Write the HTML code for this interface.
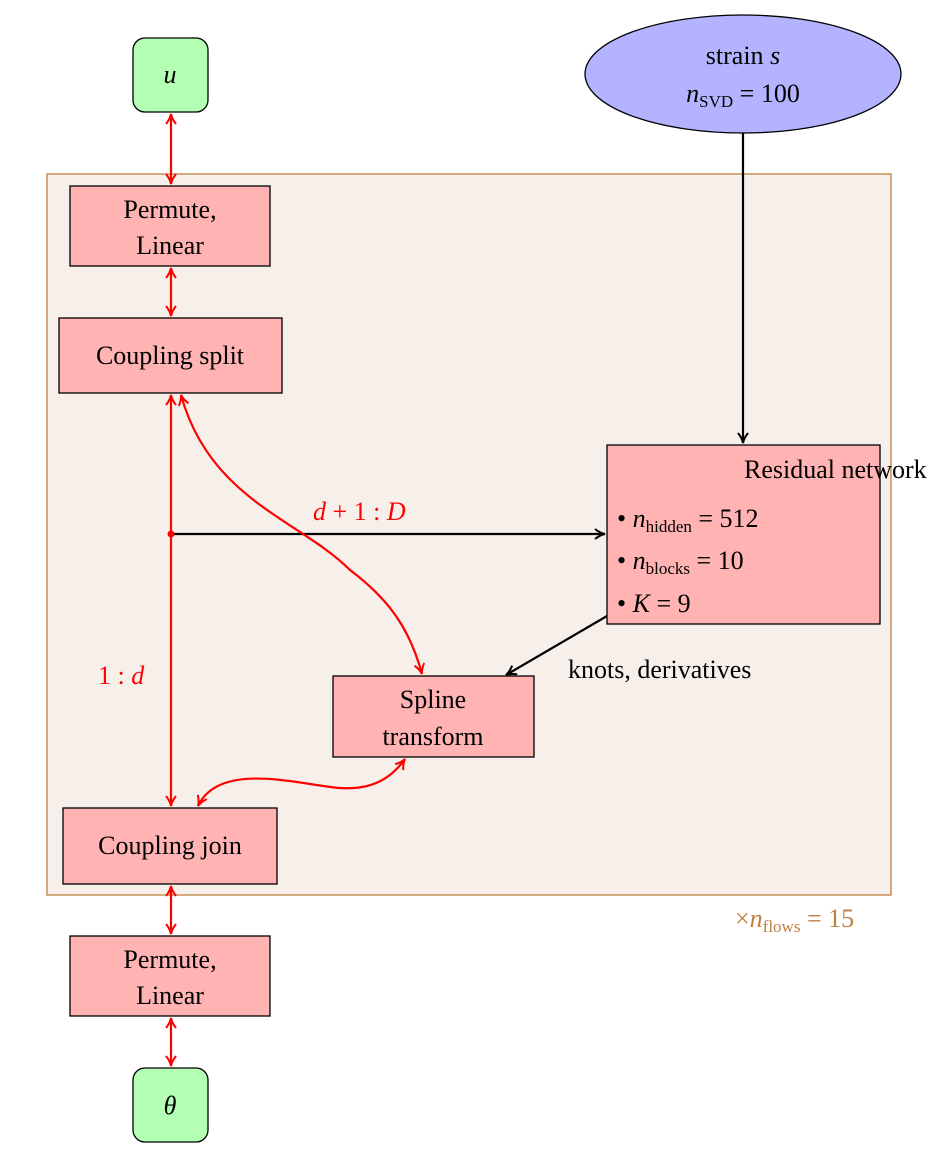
<!DOCTYPE html>
<html><head><meta charset="utf-8"><style>
html,body{margin:0;padding:0;background:#fff}
svg{display:block}
text{font-family:"Liberation Serif",serif;font-size:26px;fill:#000}
.i{font-style:italic}
</style></head><body>
<svg width="934" height="1156" viewBox="0 0 934 1156" xmlns="http://www.w3.org/2000/svg">
<defs>
<marker id="r" viewBox="0 0 12 12" refX="11" refY="6" markerWidth="12" markerHeight="12" markerUnits="userSpaceOnUse" orient="auto-start-reverse">
<path d="M1,1 Q6,5 11,6 Q6,7 1,11" fill="none" stroke="#f00" stroke-width="2"/></marker>
<marker id="k" viewBox="0 0 12 12" refX="11" refY="6" markerWidth="12" markerHeight="12" markerUnits="userSpaceOnUse" orient="auto-start-reverse">
<path d="M1,1 Q6,5 11,6 Q6,7 1,11" fill="none" stroke="#000" stroke-width="2"/></marker>
</defs>
<rect x="47" y="174" width="844" height="721" fill="#f7f0ea" stroke="#c08040" stroke-width="1.3"/>
<text x="735" y="927" style="fill:#c08040">×<tspan class="i">n</tspan><tspan font-size="17" dy="5">flows</tspan><tspan dy="-5"> = 15</tspan></text>

<rect x="133" y="38" width="75" height="74" rx="12" fill="#b3ffb3" stroke="#000" stroke-width="1.3"/>
<text x="170" y="83" text-anchor="middle" class="i">u</text>
<ellipse cx="743" cy="74" rx="158" ry="59" fill="#b3b3ff" stroke="#000" stroke-width="1.3"/>
<text x="743" y="64" text-anchor="middle">strain <tspan class="i">s</tspan></text>
<text x="743" y="102" text-anchor="middle"><tspan class="i">n</tspan><tspan font-size="17" dy="5">SVD</tspan><tspan dy="-5"> = 100</tspan></text>

<g fill="#ffb3b3" stroke="#000" stroke-width="1.3">
<rect x="70" y="186" width="200" height="80"/>
<rect x="59" y="318" width="223" height="75"/>
<rect x="607" y="445" width="273" height="179"/>
<rect x="333" y="676" width="201" height="81"/>
<rect x="63" y="808" width="214" height="76"/>
<rect x="70" y="936" width="200" height="80"/>
</g>
<rect x="133" y="1068" width="75" height="74" rx="12" fill="#b3ffb3" stroke="#000" stroke-width="1.3"/>
<text x="170" y="1114" text-anchor="middle" class="i">θ</text>

<text x="170" y="218" text-anchor="middle">Permute,</text>
<text x="170" y="254" text-anchor="middle">Linear</text>
<text x="170" y="364" text-anchor="middle">Coupling split</text>
<text x="744" y="478">Residual network</text>
<text x="617" y="527">• <tspan class="i">n</tspan><tspan font-size="17" dy="5">hidden</tspan><tspan dy="-5"> = 512</tspan></text>
<text x="617" y="569">• <tspan class="i">n</tspan><tspan font-size="17" dy="5">blocks</tspan><tspan dy="-5"> = 10</tspan></text>
<text x="617" y="612">• <tspan class="i">K</tspan> = 9</text>
<text x="744" y="478" text-anchor="middle" opacity="0"> </text>
<text x="433" y="708" text-anchor="middle">Spline</text>
<text x="433" y="745" text-anchor="middle">transform</text>
<text x="170" y="854" text-anchor="middle">Coupling join</text>
<text x="170" y="968" text-anchor="middle">Permute,</text>
<text x="170" y="1004" text-anchor="middle">Linear</text>
<text x="568" y="678">knots, derivatives</text>
<text x="313" y="520" class="i" style="fill:#f00">d <tspan font-style="normal">+ 1 :</tspan> D</text>
<text x="98" y="684" style="fill:#f00">1 : <tspan class="i">d</tspan></text>

<g stroke="#000" stroke-width="2.2" fill="none">
<line x1="743" y1="133" x2="743" y2="443" marker-end="url(#k)"/>
<line x1="173" y1="534" x2="605" y2="534" marker-end="url(#k)"/>
<line x1="607" y1="616" x2="506" y2="675" marker-end="url(#k)"/>
</g>
<g stroke="#f00" stroke-width="2.2" fill="none">
<line x1="171" y1="114" x2="171" y2="184" marker-start="url(#r)" marker-end="url(#r)"/>
<line x1="171" y1="268" x2="171" y2="316" marker-start="url(#r)" marker-end="url(#r)"/>
<line x1="171" y1="395" x2="171" y2="806" marker-start="url(#r)" marker-end="url(#r)"/>
<path d="M181,395 C210,500 300,520 350,570 C390,600 410,630 422,674" marker-start="url(#r)" marker-end="url(#r)"/>
<path d="M198,806 C220,760 300,785 340,788 C370,790 390,780 405,759" marker-start="url(#r)" marker-end="url(#r)"/>
<line x1="171" y1="886" x2="171" y2="934" marker-start="url(#r)" marker-end="url(#r)"/>
<line x1="171" y1="1018" x2="171" y2="1066" marker-start="url(#r)" marker-end="url(#r)"/>
</g>
<circle cx="171" cy="534" r="3.5" fill="#f00"/>
</svg>
</body></html>
